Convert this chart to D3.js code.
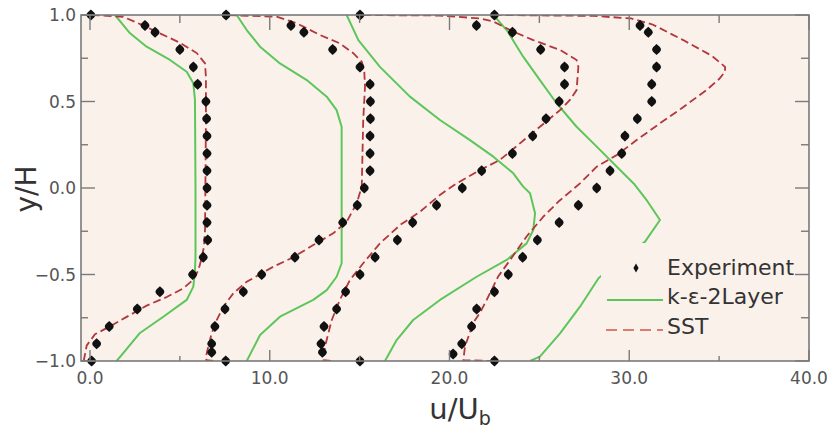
<!DOCTYPE html>
<html><head><meta charset="utf-8">
<script src="https://cdn.jsdelivr.net/npm/d3@7"></script>
<style>html,body{margin:0;padding:0;background:#fff}</style>
</head><body>
<svg id="chart" width="831" height="432"></svg>
<script>
// ---- data: [u/Ub, y/H] ----
const exp1 = [[0.05,1.0],[3.06,0.94],[3.62,0.9],[5.0,0.8],[5.75,0.7],[5.99,0.6],[6.45,0.5],[6.49,0.4],[6.51,0.3],[6.51,0.2],[6.51,0.1],[6.51,0.0],[6.51,-0.1],[6.51,-0.2],[6.55,-0.3],[6.3,-0.4],[5.71,-0.5],[3.89,-0.6],[2.63,-0.7],[1.07,-0.8],[0.37,-0.9],[0.09,-1.0]];
const exp2 = [[7.57,1.0],[11.18,0.94],[11.9,0.9],[13.5,0.8],[15.02,0.7],[15.58,0.6],[15.6,0.5],[15.6,0.4],[15.58,0.3],[15.58,0.2],[15.58,0.1],[15.26,0.0],[14.87,-0.1],[14.06,-0.2],[12.74,-0.3],[11.4,-0.4],[9.55,-0.5],[8.53,-0.6],[7.51,-0.7],[6.95,-0.8],[6.77,-0.9],[6.77,-0.95],[7.55,-1.0]];
const exp3 = [[15.02,1.0],[21.5,0.94],[23.5,0.9],[25.07,0.8],[26.4,0.7],[26.4,0.6],[26.1,0.5],[25.37,0.4],[24.63,0.3],[23.5,0.2],[21.79,0.1],[20.71,0.0],[19.28,-0.1],[17.95,-0.2],[17.1,-0.3],[15.86,-0.4],[15.02,-0.5],[14.22,-0.6],[13.72,-0.7],[13.02,-0.8],[12.85,-0.9],[12.93,-0.95],[15.02,-1.0]];
const exp4 = [[22.5,1.0],[30.6,0.94],[31.06,0.9],[31.52,0.8],[31.52,0.7],[31.25,0.6],[31.25,0.5],[30.45,0.4],[29.76,0.3],[29.58,0.2],[28.93,0.1],[28.19,0.0],[27.17,-0.1],[26.1,-0.2],[24.89,-0.3],[24.07,-0.4],[23.27,-0.5],[22.5,-0.6],[21.51,-0.7],[21.23,-0.8],[20.68,-0.9],[20.2,-0.96],[22.5,-1.0]];

const kEps1 = [[1.39,1.0],[2.23,0.894],[3.15,0.817],[4.45,0.74],[5.38,0.672],[5.75,0.605],[5.84,0.509],[5.87,0.0],[5.87,-0.4],[5.84,-0.474],[5.75,-0.57],[5.38,-0.647],[4.08,-0.744],[2.78,-0.838],[1.85,-0.955],[1.48,-1.0]];
const kEps2 = [[8.16,1.0],[8.72,0.913],[9.46,0.817],[10.57,0.72],[12.06,0.624],[13.17,0.528],[13.72,0.45],[14.0,0.354],[14.0,-0.07],[14.0,-0.435],[13.72,-0.513],[13.17,-0.59],[12.42,-0.647],[10.57,-0.744],[9.46,-0.85],[8.72,-1.0]];
const kEps3 = [[14.28,1.0],[14.93,0.855],[16.13,0.70],[17.8,0.528],[19.47,0.393],[21.14,0.277],[22.44,0.181],[23.55,0.085],[24.1,0.008],[24.48,-0.03],[24.76,-0.146],[24.66,-0.243],[24.29,-0.32],[23.18,-0.416],[21.51,-0.513],[19.47,-0.647],[17.98,-0.763],[17.06,-0.879],[16.41,-1.0]];
const kEps4 = [[22.44,1.0],[23.18,0.913],[24.1,0.759],[25.03,0.624],[25.96,0.49],[27.07,0.354],[28.19,0.239],[29.49,0.104],[30.3,0.02],[31.0,-0.075],[31.71,-0.185],[30.88,-0.31],[28.3,-0.52],[27.26,-0.686],[26.15,-0.84],[25.03,-0.975],[24.48,-1.0]];

const sst1 = [[-0.35,-1.0],[-0.18,-0.91],[0.28,-0.845],[1.11,-0.8],[2.04,-0.745],[3.15,-0.68],[4.27,-0.63],[5.19,-0.58],[5.75,-0.53],[6.03,-0.475],[6.21,-0.405],[6.34,-0.34],[6.4,-0.24],[6.42,0.0],[6.45,0.4],[6.45,0.64],[6.4,0.72],[5.94,0.78],[5.0,0.84],[2.95,0.94],[1.84,0.99],[0.17,1.0],[-0.3,1.0]];
const sst2 = [[6.85,-1.0],[6.48,-0.995],[6.45,-0.975],[6.58,-0.917],[6.77,-0.84],[7.05,-0.763],[7.42,-0.686],[7.97,-0.609],[8.72,-0.542],[10.2,-0.455],[11.31,-0.4],[12.42,-0.33],[13.53,-0.262],[14.28,-0.195],[14.84,-0.088],[15.12,0.008],[15.2,0.39],[15.3,0.585],[15.26,0.672],[15.12,0.73],[14.65,0.779],[13.9,0.836],[12.8,0.884],[11.5,0.952],[10.39,0.99],[7.5,1.0]];
const sst3 = [[13.4,-1.0],[12.98,-0.995],[13.07,-0.917],[13.45,-0.763],[13.9,-0.647],[14.46,-0.532],[15.2,-0.435],[16.13,-0.32],[17.25,-0.214],[18.36,-0.137],[19.47,-0.04],[20.4,0.027],[21.7,0.104],[22.8,0.162],[23.92,0.258],[25.03,0.354],[26.15,0.45],[26.7,0.509],[27.07,0.566],[27.17,0.70],[27.07,0.74],[26.15,0.798],[24.66,0.855],[23.55,0.904],[22.44,0.962],[21.7,0.98],[19.47,0.997],[15.0,1.0]];
const sst4 = [[22.5,-1.0],[20.77,-0.995],[20.86,-0.917],[21.32,-0.78],[21.7,-0.72],[22.07,-0.647],[22.7,-0.513],[23.55,-0.39],[24.29,-0.28],[25.22,-0.166],[26.1,-0.075],[27.26,0.027],[28.19,0.123],[29.3,0.19],[30.41,0.277],[31.71,0.374],[32.9,0.46],[34.3,0.566],[35.0,0.63],[35.33,0.672],[35.33,0.70],[34.6,0.764],[33.0,0.855],[31.3,0.945],[30.1,0.98],[28.0,0.995],[22.5,1.0]];

const xTicksMajor = [0, 10, 20, 30, 40];
const xTicksMinor = [5, 15, 25, 35];
const yTicksMajor = [-1, -0.5, 0, 0.5, 1];
const yTicksMinor = [-0.75, -0.25, 0.25, 0.75];
const legendLabels = ["Experiment", "k-\u03b5-2Layer", "SST"];

// ---- layout ----
const svg = d3.select("#chart");
const L = 81, R = 809, T = 15, B = 361;
const x = d3.scaleLinear().domain([-0.5, 40]).range([L, R]);
const y = d3.scaleLinear().domain([-1, 1]).range([B, T]);
const bg = "#fbf1eb";
const font = "'DejaVu Sans', Verdana, sans-serif";

svg.append("rect").attr("x", L).attr("y", T).attr("width", R - L).attr("height", B - T).attr("fill", bg);
svg.append("defs").append("clipPath").attr("id", "clip")
  .append("rect").attr("x", L).attr("y", T).attr("width", R - L).attr("height", B - T);

const plot = svg.append("g").attr("clip-path", "url(#clip)");
const line = d3.line().x(d => x(d[0])).y(d => y(d[1]));

const green = "#5cc65a", red = "#b3363b", redLegend = "#de7c6c";
[kEps1, kEps2, kEps3, kEps4].forEach(s => {
  plot.append("path").datum(s).attr("d", line).attr("fill", "none")
    .attr("stroke", green).attr("stroke-width", 2).attr("stroke-linejoin", "round");
});
[sst1, sst2, sst3, sst4].forEach(s => {
  plot.append("path").datum(s).attr("d", line).attr("fill", "none")
    .attr("stroke", red).attr("stroke-width", 1.8).attr("stroke-dasharray", "8,4");
});

const marker = "M0,-5.5 C2.9,-3 4.4,-1.6 4.4,0 C4.4,1.6 2.9,3 0,5.5 C-2.9,3 -4.4,1.6 -4.4,0 C-4.4,-1.6 -2.9,-3 0,-5.5Z";
[exp1, exp2, exp3, exp4].forEach(s => {
  svg.append("g").selectAll("path").data(s).join("path")
    .attr("d", marker).attr("fill", "#111")
    .attr("transform", d => `translate(${x(d[0])},${y(d[1])})`);
});

// ---- legend (box with plot background hides lines behind it) ----
const lg = svg.append("g");
lg.append("rect").attr("x", 601).attr("y", 243).attr("width", R - 601).attr("height", 100).attr("fill", bg);
lg.append("path").attr("d", "M0,-4.5 L2.6,0 L0,4.5 L-2.6,0Z").attr("fill", "#111")
  .attr("transform", "translate(636,268)");
lg.append("line").attr("x1", 607).attr("x2", 663).attr("y1", 300).attr("y2", 300)
  .attr("stroke", green).attr("stroke-width", 2);
lg.append("line").attr("x1", 606).attr("x2", 663).attr("y1", 330).attr("y2", 330)
  .attr("stroke", redLegend).attr("stroke-width", 2).attr("stroke-dasharray", "11,6");
const lgY = [275, 304, 334];
legendLabels.forEach((t, i) => {
  lg.append("text").attr("x", 667).attr("y", lgY[i]).text(t)
    .attr("font-family", font).attr("font-size", 22).attr("fill", "#333");
});

// ---- frame & ticks ----
const axc = "#7a7a7a";
const fr = svg.append("g").attr("stroke", axc).attr("stroke-width", 1.4);
xTicksMajor.forEach(v => {
  fr.append("line").attr("x1", x(v)).attr("x2", x(v)).attr("y1", B).attr("y2", B - 11);
  fr.append("line").attr("x1", x(v)).attr("x2", x(v)).attr("y1", T).attr("y2", T + 15);
});
xTicksMinor.forEach(v => {
  fr.append("line").attr("x1", x(v)).attr("x2", x(v)).attr("y1", B).attr("y2", B - 5);
  fr.append("line").attr("x1", x(v)).attr("x2", x(v)).attr("y1", T).attr("y2", T + 8);
});
yTicksMajor.forEach(v => {
  fr.append("line").attr("x1", L).attr("x2", L + 14).attr("y1", y(v)).attr("y2", y(v));
  fr.append("line").attr("x1", R).attr("x2", R - 14).attr("y1", y(v)).attr("y2", y(v));
});
yTicksMinor.forEach(v => {
  fr.append("line").attr("x1", L).attr("x2", L + 7).attr("y1", y(v)).attr("y2", y(v));
  fr.append("line").attr("x1", R).attr("x2", R - 8).attr("y1", y(v)).attr("y2", y(v));
});
svg.append("rect").attr("x", L).attr("y", T).attr("width", R - L).attr("height", B - T)
  .attr("fill", "none").attr("stroke", axc).attr("stroke-width", 1.6);

// tick labels
const fmt = d3.format(".1f");
svg.append("g").selectAll("text").data(xTicksMajor).join("text")
  .attr("x", d => x(d)).attr("y", 384).attr("text-anchor", "middle")
  .attr("font-family", font).attr("font-size", 17).attr("fill", "#555").text(fmt);
svg.append("g").selectAll("text").data(yTicksMajor).join("text")
  .attr("x", 76).attr("y", d => y(d) + 6).attr("text-anchor", "end")
  .attr("font-family", font).attr("font-size", 17).attr("fill", "#555").text(fmt);

// axis titles
const xt = svg.append("text").attr("x", 460).attr("y", 419).attr("text-anchor", "middle")
  .attr("font-family", font).attr("font-size", 29).attr("fill", "#333");
xt.append("tspan").text("u/U");
xt.append("tspan").attr("font-size", 19).attr("dy", 6).text("b");
svg.append("text").attr("transform", "translate(36,189) rotate(-90)").attr("text-anchor", "middle")
  .attr("font-family", font).attr("font-size", 28).attr("fill", "#333").text("y/H");
</script>
</body></html>
